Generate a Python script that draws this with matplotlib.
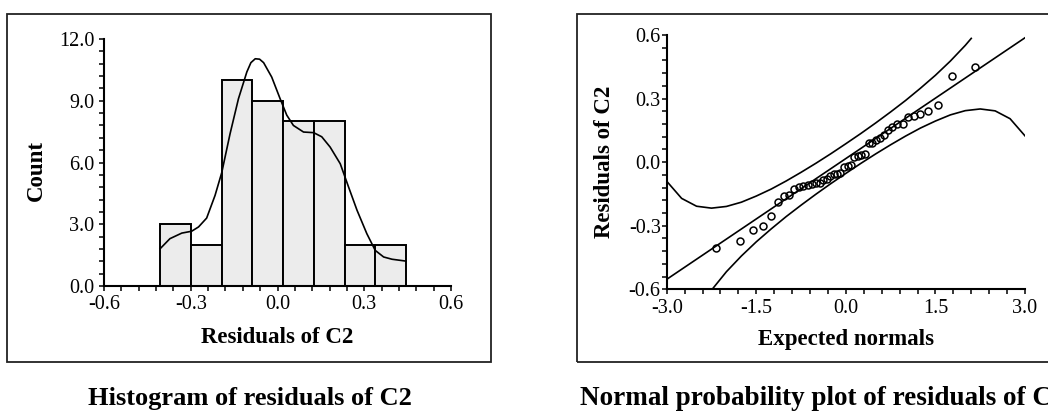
import numpy as np
import matplotlib.pyplot as plt
from matplotlib.patches import Rectangle
from matplotlib.ticker import MultipleLocator, FuncFormatter

plt.rcParams['font.family'] = ['Liberation Serif', 'DejaVu Serif']
plt.rcParams['axes.unicode_minus'] = False

# --- histogram of residuals ---
bin_edges = [-0.406, -0.300, -0.193, -0.087, 0.019, 0.125, 0.232, 0.338, 0.444]
counts = [3, 2, 10, 9, 8, 8, 2, 2]

# smoothed density curve (scaled to counts)
kde_x = [-0.406, -0.372, -0.331, -0.297, -0.273, -0.245, -0.216, -0.193, -0.164,
         -0.135, -0.106, -0.092, -0.077, -0.062, -0.048, -0.020, 0.009, 0.032, 0.055, 0.090,
         0.125, 0.153, 0.182, 0.217, 0.246, 0.275, 0.309, 0.338, 0.367, 0.396, 0.444]
kde_y = [1.81, 2.30, 2.57, 2.66, 2.87, 3.30, 4.40, 5.50, 7.40,
         9.10, 10.40, 10.85, 11.04, 11.02, 10.85, 10.15, 9.10, 8.30, 7.80, 7.48,
         7.45, 7.25, 6.75, 5.94, 4.80, 3.68, 2.54, 1.73, 1.41, 1.30, 1.21]

# --- normal probability plot ---
expected = [-2.17, -1.78, -1.55, -1.38, -1.25, -1.14, -1.04, -0.95, -0.86, -0.78,
            -0.71, -0.64, -0.57, -0.50, -0.44, -0.38, -0.32, -0.26, -0.20, -0.14,
            -0.09, -0.03, 0.03, 0.09, 0.14, 0.20, 0.26, 0.32, 0.38, 0.44,
            0.50, 0.57, 0.64, 0.71, 0.78, 0.86, 0.95, 1.04, 1.14, 1.25,
            1.38, 1.55, 1.78, 2.17]
residuals = [-0.407, -0.372, -0.322, -0.300, -0.253, -0.187, -0.158, -0.154, -0.128, -0.119,
             -0.113, -0.106, -0.103, -0.100, -0.097, -0.084, -0.078, -0.065, -0.058, -0.054,
             -0.050, -0.022, -0.017, -0.013, 0.023, 0.029, 0.034, 0.038, 0.089, 0.092,
             0.104, 0.115, 0.127, 0.152, 0.167, 0.179, 0.181, 0.212, 0.219, 0.226,
             0.241, 0.270, 0.408, 0.448]

fit_x = [-3.0, 3.0]
fit_y = [-0.553, 0.587]

upper_x = [-3.0, -2.75, -2.5, -2.25, -2.0, -1.75, -1.5, -1.25, -1.0, -0.75, -0.5, -0.25,
           0.0, 0.25, 0.5, 0.75, 1.0, 1.25, 1.5, 1.75, 2.0, 2.1]
upper_y = [-0.090, -0.171, -0.208, -0.217, -0.209, -0.189, -0.160, -0.127, -0.089, -0.048,
           -0.005, 0.040, 0.087, 0.135, 0.185, 0.237, 0.291, 0.349, 0.410, 0.477, 0.551, 0.584]
lower_x = [-2.25, -2.0, -1.75, -1.5, -1.25, -1.0, -0.75, -0.5, -0.25, 0.0, 0.25, 0.5,
           0.75, 1.0, 1.25, 1.5, 1.75, 2.0, 2.25, 2.5, 2.75, 3.0]
lower_y = [-0.604, -0.517, -0.443, -0.376, -0.315, -0.257, -0.203, -0.151, -0.101, -0.053,
           -0.006, 0.039, 0.082, 0.123, 0.161, 0.194, 0.223, 0.243, 0.251, 0.242, 0.205, 0.124]

W, H = 1048, 411
fig = plt.figure(figsize=(W / 100, H / 100), dpi=100)


def px_axes(x0, y0, x1, y1):
    return fig.add_axes([x0 / W, 1 - y1 / H, (x1 - x0) / W, (y1 - y0) / H])


def fmt(v, pos):
    return f'{round(v, 1) + 0.0:.1f}'


def style(ax, pad_y):
    for s in ['top', 'right']:
        ax.spines[s].set_visible(False)
    for s in ['left', 'bottom']:
        ax.spines[s].set_linewidth(1.5)
    ax.tick_params(which='both', direction='out', length=3.8, width=1.1,
                   labelsize=14.5, colors='black')
    ax.tick_params(axis='y', which='both', pad=pad_y)
    ax.tick_params(axis='x', which='both', pad=3)
    ax.xaxis.set_major_formatter(FuncFormatter(fmt))
    ax.yaxis.set_major_formatter(FuncFormatter(fmt))


# frames around the two panels
for x0, x1 in [(7, 491), (577, 1062)]:
    fig.patches.append(Rectangle((x0 / W, 1 - 362 / H), (x1 - x0) / W, (362 - 14) / H,
                                 transform=fig.transFigure, fill=False,
                                 lw=1.3, ec='#222222'))

# left: histogram
ax1 = px_axes(104, 39, 451, 286)
widths = np.diff(bin_edges)
ax1.bar(bin_edges[:-1], counts, width=widths, align='edge', color='#ececec',
        edgecolor='black', linewidth=1.4, zorder=2)
ax1.plot(kde_x, kde_y, color='black', lw=1.2, zorder=3)
ax1.set_xlim(-0.6, 0.6)
ax1.set_ylim(0, 12)
ax1.xaxis.set_major_locator(MultipleLocator(0.3))
ax1.xaxis.set_minor_locator(MultipleLocator(0.06))
ax1.yaxis.set_major_locator(MultipleLocator(3))
ax1.yaxis.set_minor_locator(MultipleLocator(0.6))
style(ax1, 3)
ax1.set_xlabel('Residuals of C2', fontsize=16.5, fontweight='bold', va='baseline')
ax1.xaxis.set_label_coords(0.5, (286 - 343) / 247)
ax1.set_ylabel('Count', fontsize=16.5, fontweight='bold', va='center')
ax1.yaxis.set_label_coords((36 - 104) / 347, (286 - 170) / 247)

# right: normal probability plot
ax2 = px_axes(666.7, 35, 1025, 289.3)
ax2.plot(fit_x, fit_y, color='black', lw=1.2)
ax2.plot(upper_x, upper_y, color='black', lw=1.2)
ax2.plot(lower_x, lower_y, color='black', lw=1.2)
ax2.plot(expected, residuals, 'o', ms=5, mfc='none', mec='black', mew=1.1)
ax2.set_xlim(-3, 3)
ax2.set_ylim(-0.6, 0.6)
ax2.xaxis.set_major_locator(MultipleLocator(1.5))
ax2.xaxis.set_minor_locator(MultipleLocator(0.3))
ax2.yaxis.set_major_locator(MultipleLocator(0.3))
ax2.yaxis.set_minor_locator(MultipleLocator(0.06))
style(ax2, 0.5)
ax2.set_xlabel('Expected normals', fontsize=16.5, fontweight='bold', va='baseline')
ax2.xaxis.set_label_coords(0.5, (289.3 - 345.5) / 254.3)
ax2.set_ylabel('Residuals of C2', fontsize=16.5, fontweight='bold', va='center')
ax2.yaxis.set_label_coords((605 - 666.7) / 358.3, 0.5)

# captions under the panels
fig.text(250 / W, (H - 405) / H, 'Histogram of residuals of C2', ha='center',
         va='baseline', fontsize=19, fontweight='bold')
fig.text(580 / W, (H - 405) / H, 'Normal probability plot of residuals of C2',
         ha='left', va='baseline', fontsize=19.5, fontweight='bold')

fig.savefig('out.png', dpi=100)
